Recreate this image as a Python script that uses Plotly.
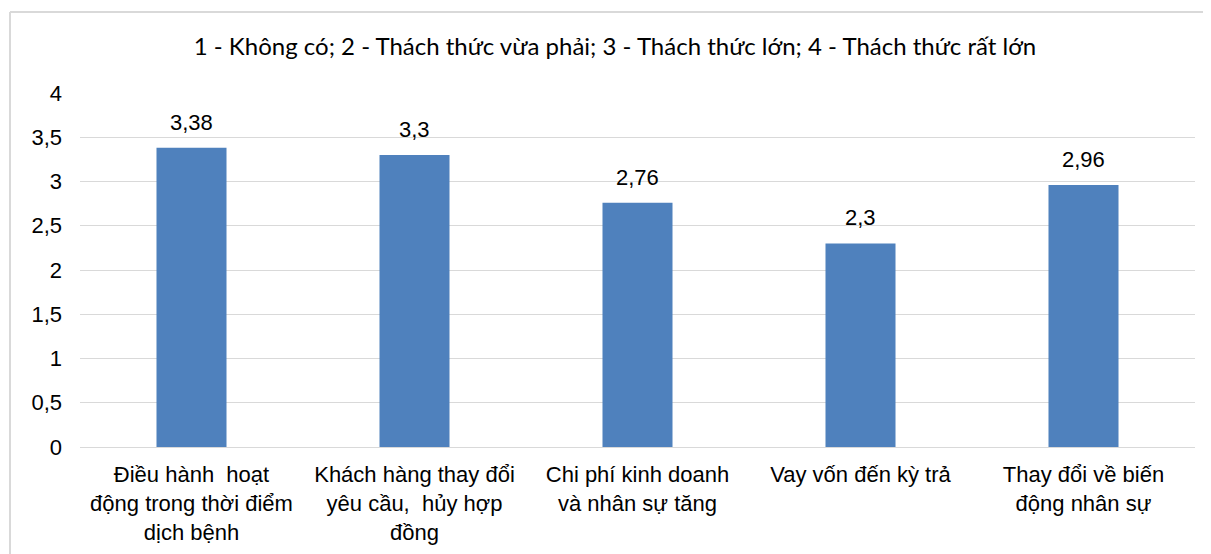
import plotly.graph_objects as go

categories = [
    "Điều hành  hoạt<br>động trong thời điểm<br>dịch bệnh",
    "Khách hàng thay đổi<br>yêu cầu,  hủy hợp<br>đồng",
    "Chi phí kinh doanh<br>và nhân sự tăng",
    "Vay vốn đến kỳ trả",
    "Thay đổi về biến<br>động nhân sự",
]
values = [3.38, 3.3, 2.76, 2.3, 2.96]
value_labels = ["3,38", "3,3", "2,76", "2,3", "2,96"]
y_ticks = [0, 0.5, 1, 1.5, 2, 2.5, 3, 3.5, 4]
y_tick_labels = ["0", "0,5", "1", "1,5", "2", "2,5", "3", "3,5", "4"]
title_text = "1 - Không có; 2 - Thách thức vừa phải; 3 - Thách thức lớn; 4 - Thách thức rất lớn"

# page body has an 8px margin; figure coordinates are image coordinates minus 8
OFF = 8
W, H = 1203, 546
L, R, T, B = 72, 16, 85, 107
pw, ph = W - L - R, H - T - B

def px_x(x):
    return (x - OFF - L) / pw

def px_y(y):
    return (H - B - (y - OFF)) / ph

FONT = "Liberation Sans, Arial"

fig = go.Figure(
    go.Bar(
        x=categories,
        y=values,
        marker=dict(color="#4F81BD", line=dict(width=0)),
        hoverinfo="x+y",
    )
)

annotations = [
    dict(
        x=c,
        y=v,
        xref="x",
        yref="y",
        text=t,
        showarrow=False,
        yanchor="bottom",
        yshift=11,
        font=dict(family=FONT, size=22, color="#000000"),
    )
    for c, v, t in zip(categories, values, value_labels)
]

border = dict(color="#D9D9D9", width=2)

fig.update_layout(
    width=W,
    height=H,
    margin=dict(l=L, r=R, t=T, b=B, autoexpand=False),
    paper_bgcolor="white",
    plot_bgcolor="white",
    bargap=0.686,
    showlegend=False,
    font=dict(family=FONT, size=21, color="#000000"),
    title=dict(
        text=title_text,
        x=(615 - OFF) / W,
        xanchor="center",
        xref="container",
        y=1 - (47 - OFF) / H,
        yanchor="middle",
        font=dict(family="Lato, Open Sans", size=24, color="#000000"),
    ),
    xaxis=dict(
        showgrid=False,
        showline=True,
        linecolor="#D9D9D9",
        linewidth=1,
        ticks="",
        automargin=False,
        ticklabelstandoff=8,
        tickfont=dict(family=FONT, size=22, color="#000000"),
    ),
    yaxis=dict(
        range=[0, 4],
        tickvals=y_ticks,
        ticktext=y_tick_labels,
        showgrid=True,
        gridcolor="#D9D9D9",
        gridwidth=1,
        zeroline=False,
        showline=False,
        ticks="",
        automargin=False,
        ticklabelstandoff=17,
        tickfont=dict(family=FONT, size=22, color="#000000"),
    ),
    annotations=annotations,
    shapes=[
        dict(type="line", xref="paper", yref="paper",
             x0=px_x(10), x1=px_x(1215), y0=px_y(12), y1=px_y(12),
             line=border, layer="below"),
        dict(type="line", xref="paper", yref="paper",
             x0=px_x(10), x1=px_x(10), y0=px_y(12), y1=px_y(570),
             line=border, layer="below"),
    ],
)

fig.write_html("out.html")
